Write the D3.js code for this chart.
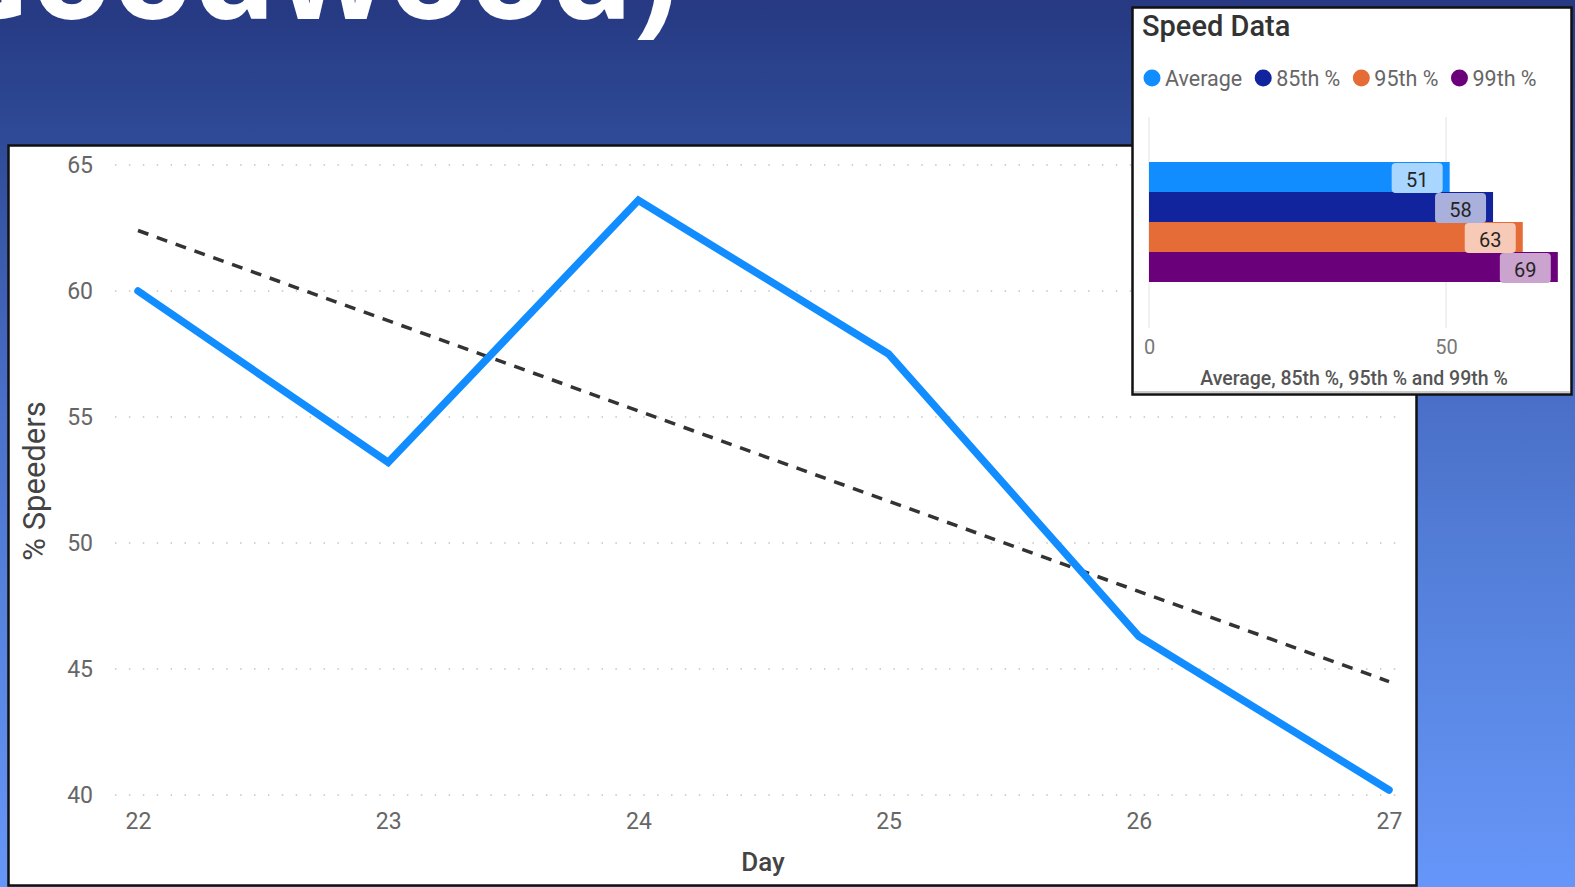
<!DOCTYPE html>
<html>
<head>
<meta charset="utf-8">
<script src="https://cdn.jsdelivr.net/npm/d3@7"></script>
<style>
  html, body { margin: 0; padding: 0; overflow: hidden; }
  svg { display: block; }
</style>
</head>
<body>
<svg id="chart" width="1575" height="887"></svg>
<script>
// line chart data
var days = [22, 23, 24, 25, 26, 27];
var speeders = [60.0, 53.2, 63.6, 57.5, 46.3, 40.2];
var trendDays = [22, 27];
var trendValues = [62.4, 44.5];
var yTicks = [40, 45, 50, 55, 60, 65];

// speed data inset
var speedLabels = ['Average', '85th %', '95th %', '99th %'];
var speedValues = [50.6, 57.9, 62.9, 68.8];
var speedColors = ['#118DFF', '#12239E', '#E66C37', '#6B007B'];
var speedTicks = [0, 50];

var svg = d3.select('#chart');
var font = 'Roboto, "Open Sans", sans-serif';

// slide background
var grad = svg.append('defs').append('linearGradient')
  .attr('id', 'bg').attr('x1', 0).attr('y1', 0).attr('x2', 0).attr('y2', 1);
[[0, '#263982'], [0.16, '#2F4B97'], [0.45, '#4A6FC8'], [0.65, '#5480DA'], [1, '#6696F9']]
  .forEach(function(s) {
    grad.append('stop').attr('offset', s[0]).attr('stop-color', s[1]);
  });
svg.append('rect').attr('width', 1575).attr('height', 887).attr('fill', 'url(#bg)');

// slide title, cut off at the top
svg.append('text')
  .attr('x', 678).attr('y', 19)
  .attr('text-anchor', 'end')
  .attr('font-family', '"Open Sans", sans-serif')
  .attr('font-weight', 700)
  .attr('font-size', 131)
  .attr('fill', '#fff')
  .text('(Goodwood)');

// main panel
svg.append('rect')
  .attr('x', 8.5).attr('y', 145.5).attr('width', 1408).attr('height', 740)
  .attr('fill', '#fff').attr('stroke', '#111').attr('stroke-width', 2.5);

var x = d3.scaleLinear().domain([22, 27]).range([138, 1389]);
var y = d3.scaleLinear().domain([40, 65]).range([795, 165]);

var g = svg.append('g');

g.append('g')
  .selectAll('line')
  .data(yTicks)
  .enter()
  .append('line')
  .attr('x1', 115).attr('x2', 1402)
  .attr('y1', d => y(d)).attr('y2', d => y(d))
  .attr('stroke', '#c4c4c4')
  .attr('stroke-width', 1.5)
  .attr('stroke-dasharray', '1.5,12.4');

var yAxis = g.append('g')
  .attr('transform', 'translate(104,0)')
  .call(d3.axisLeft(y).tickValues(yTicks).tickSize(0).tickPadding(11));
yAxis.select('.domain').remove();
yAxis.selectAll('text')
  .attr('font-family', font).attr('font-size', 23).attr('fill', '#666');

var xAxis = g.append('g')
  .attr('transform', 'translate(0,813)')
  .call(d3.axisBottom(x).tickValues(days).tickFormat(d3.format('d')).tickSize(0).tickPadding(0));
xAxis.select('.domain').remove();
xAxis.selectAll('text')
  .attr('font-family', font).attr('font-size', 23).attr('fill', '#666')
  .attr('dy', '0.71em');

g.append('text')
  .attr('x', 763).attr('y', 871)
  .attr('text-anchor', 'middle')
  .attr('font-family', font).attr('font-size', 26).attr('font-weight', 500)
  .attr('fill', '#444')
  .text('Day');

g.append('text')
  .attr('transform', 'translate(45,481) rotate(-90)')
  .attr('text-anchor', 'middle')
  .attr('font-family', font).attr('font-size', 31)
  .attr('fill', '#444')
  .text('% Speeders');

// trend line
var trend = trendDays.map((d, i) => ({ day: d, value: trendValues[i] }));
g.append('path')
  .datum(trend)
  .attr('d', d3.line().x(d => x(d.day)).y(d => y(d.value)))
  .attr('fill', 'none')
  .attr('stroke', '#333')
  .attr('stroke-width', 3.5)
  .attr('stroke-dasharray', '11,9');

// speeders line
var series = days.map((d, i) => ({ day: d, value: speeders[i] }));
g.append('path')
  .datum(series)
  .attr('d', d3.line().x(d => x(d.day)).y(d => y(d.value)))
  .attr('fill', 'none')
  .attr('stroke', '#118DFF')
  .attr('stroke-width', 7.5)
  .attr('stroke-linejoin', 'miter')
  .attr('stroke-linecap', 'round');

// inset: Speed Data
var inset = svg.append('g');
inset.append('rect')
  .attr('x', 1132.5).attr('y', 7.5).attr('width', 439).attr('height', 387)
  .attr('fill', '#fff').attr('stroke', '#111').attr('stroke-width', 2.5);
inset.append('line')
  .attr('x1', 1134).attr('x2', 1570).attr('y1', 392).attr('y2', 392)
  .attr('stroke', '#999').attr('stroke-width', 1);

inset.append('text')
  .attr('x', 1142).attr('y', 36)
  .attr('font-family', font).attr('font-size', 29).attr('font-weight', 500)
  .attr('fill', '#333')
  .text('Speed Data');

// legend, laid out from the measured text widths
var lx = 1152;
speedLabels.forEach(function(label, i) {
  inset.append('circle')
    .attr('cx', lx).attr('cy', 78).attr('r', 8.5)
    .attr('fill', speedColors[i]);
  var t = inset.append('text')
    .attr('x', lx + 13).attr('y', 78)
    .attr('dy', '0.35em')
    .attr('font-family', font).attr('font-size', 21.5)
    .attr('fill', '#666')
    .text(label);
  lx = lx + 13 + t.node().getComputedTextLength() + 21;
});

var bx = d3.scaleLinear().domain([0, 69]).range([1149, 1559]);
var by = d3.scaleBand().domain(speedLabels).range([162, 282]).padding(0);

inset.append('g')
  .selectAll('line')
  .data(speedTicks)
  .enter()
  .append('line')
  .attr('x1', d => bx(d)).attr('x2', d => bx(d))
  .attr('y1', 117).attr('y2', 328)
  .attr('stroke', '#ececec').attr('stroke-width', 1.5);

var speed = speedLabels.map((d, i) => ({ label: d, value: speedValues[i], color: speedColors[i] }));

inset.append('g')
  .selectAll('rect')
  .data(speed)
  .enter()
  .append('rect')
  .attr('x', bx(0))
  .attr('y', d => by(d.label))
  .attr('width', d => bx(d.value) - bx(0))
  .attr('height', by.bandwidth())
  .attr('fill', d => d.color);

var labels = inset.append('g')
  .selectAll('g')
  .data(speed)
  .enter()
  .append('g')
  .attr('transform', d => 'translate(' + (bx(d.value) - 7) + ',' + by(d.label) + ')');
labels.append('rect')
  .attr('x', -51).attr('y', 1).attr('width', 51).attr('height', by.bandwidth())
  .attr('rx', 4)
  .attr('fill', d => d3.interpolateRgb(d.color, '#fff')(0.64));
labels.append('text')
  .attr('x', -25.5).attr('y', by.bandwidth() / 2 + 3)
  .attr('dy', '0.35em')
  .attr('text-anchor', 'middle')
  .attr('font-family', font).attr('font-size', 20)
  .attr('fill', '#252423')
  .text(d => Math.round(d.value));

var bAxis = inset.append('g')
  .attr('transform', 'translate(0,340)')
  .call(d3.axisBottom(bx).tickValues(speedTicks).tickSize(0).tickPadding(0));
bAxis.select('.domain').remove();
bAxis.selectAll('text')
  .attr('font-family', font).attr('font-size', 20).attr('fill', '#777')
  .attr('dy', '0.71em');

inset.append('text')
  .attr('x', (bx(0) + bx(69)) / 2).attr('y', 385)
  .attr('text-anchor', 'middle')
  .attr('font-family', font).attr('font-size', 19.5).attr('font-weight', 500)
  .attr('fill', '#555')
  .text('Average, 85th %, 95th % and 99th %');
</script>
</body>
</html>
